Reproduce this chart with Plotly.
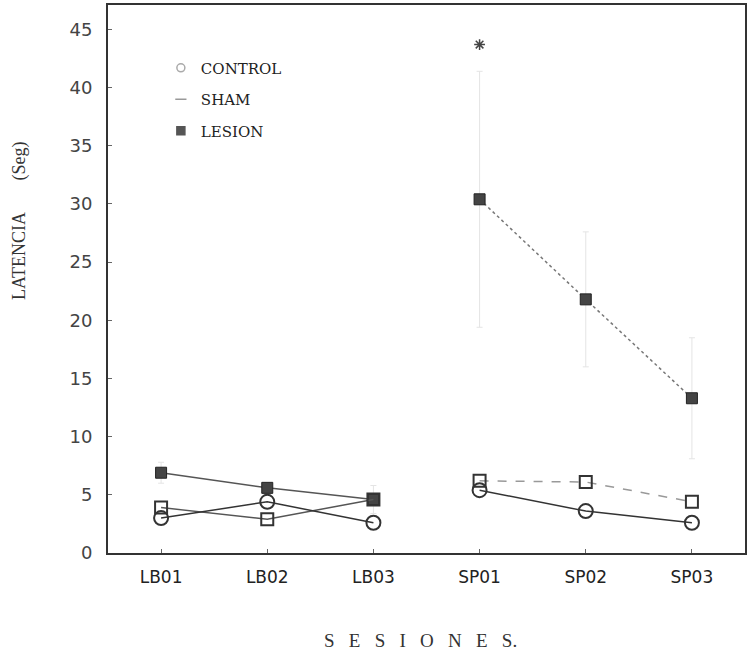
import plotly.graph_objects as go

sessions = ["LB01", "LB02", "LB03", "SP01", "SP02", "SP03"]
control = [3.0, 4.4, 2.6, 5.4, 3.6, 2.6]
sham = [3.9, 2.9, 4.6, 6.2, 6.1, 4.4]
lesion = [6.9, 5.6, 4.6, 30.4, 21.8, 13.3]
lesion_err = [0.9, 0.4, 1.2, 11.0, 5.8, 5.2]
sig_x = ["SP01"]
sig_y = [43.7]
y_ticks = [0, 5, 10, 15, 20, 25, 30, 35, 40, 45]

serif = "Liberation Serif, DejaVu Serif, serif"
serif2 = "DejaVu Serif, Liberation Serif, serif"
sans = "DejaVu Sans, Liberation Sans, sans-serif"

fig = go.Figure()

def seg(vals, a, b):
    return sessions[a:b], vals[a:b]

# Lesion (two segments)
for (a, b), lstyle, col in [((0, 3), "solid", "#555555"), ((3, 6), "dot", "#777777")]:
    xs, ys = seg(lesion, a, b)
    fig.add_trace(go.Scatter(
        x=xs, y=ys, mode="lines+markers", showlegend=False,
        line=dict(color=col, width=1.5, dash=lstyle),
        marker=dict(symbol="square", size=11, color="#444444",
                    line=dict(color="#222222", width=1)),
        error_y=dict(type="data", array=lesion_err[a:b], color="#e4e4e4",
                     thickness=1, width=3),
    ))

# Sham
for (a, b), lstyle, col in [((0, 3), "solid", "#555555"), ((3, 6), "dash", "#999999")]:
    xs, ys = seg(sham, a, b)
    fig.add_trace(go.Scatter(
        x=xs, y=ys, mode="lines+markers", showlegend=False,
        line=dict(color=col, width=1.5, dash=lstyle),
        marker=dict(symbol="square-open", size=12, color="#333333",
                    line=dict(color="#333333", width=2)),
    ))

# Control
for (a, b) in [(0, 3), (3, 6)]:
    xs, ys = seg(control, a, b)
    fig.add_trace(go.Scatter(
        x=xs, y=ys, mode="lines+markers", showlegend=False,
        line=dict(color="#333333", width=1.5),
        marker=dict(symbol="circle-open", size=14, color="#333333",
                    line=dict(color="#333333", width=2)),
    ))

# significance mark
fig.add_trace(go.Scatter(
    x=sig_x, y=sig_y, mode="markers", showlegend=False,
    marker=dict(symbol="asterisk-open", size=9, color="#444444",
                line=dict(color="#444444", width=1.5)),
))

# legend-only entries
for name, sym, col in [("CONTROL", "circle-open", "#aaaaaa"),
                       ("SHAM", "line-ew-open", "#999999"),
                       ("LESION", "square", "#555555")]:
    fig.add_trace(go.Scatter(
        x=[None], y=[None], mode="markers", name=name, legendgroup=name,
        marker=dict(symbol=sym, size=8, color=col, line=dict(color=col, width=1.5)),
    ))

fig.update_layout(
    width=751, height=658,
    margin=dict(l=108, r=6, t=5, b=105, autoexpand=False),
    paper_bgcolor="white", plot_bgcolor="white",
    showlegend=True,
    legend=dict(x=0.083, y=0.915, xanchor="left", yanchor="top",
                bgcolor="rgba(0,0,0,0)", traceorder="grouped",
                tracegroupgap=9,
                font=dict(family=serif2, size=15, color="#222222")),
    xaxis=dict(
        type="category", categoryorder="array", categoryarray=sessions,
        range=[-0.5, 5.5], showgrid=False, zeroline=False, automargin=False,
        showline=True, linecolor="#333333", linewidth=2, mirror=True,
        ticks="inside", ticklen=4, tickcolor="#666666",
        tickfont=dict(family=sans, size=17, color="#222222"),
        ticklabelstandoff=8,
    ),
    yaxis=dict(
        range=[0, 47.1], tickvals=y_ticks, showgrid=False, zeroline=False,
        automargin=False,
        showline=True, linecolor="#333333", linewidth=2, mirror=True,
        ticks="inside", ticklen=4, tickcolor="#666666",
        tickfont=dict(family=sans, size=18, color="#444444"),
        ticklabelstandoff=10,
    ),
    annotations=[
        dict(text="LATENCIA&nbsp;&nbsp;&nbsp;&nbsp;&nbsp;&nbsp;&nbsp;(Seg)", textangle=-90,
             xref="paper", yref="paper", x=-0.138, y=0.606,
             xanchor="center", yanchor="middle",
             showarrow=False, font=dict(family=serif, size=18, color="#333333")),
        dict(text="S&nbsp;&nbsp;&nbsp;E&nbsp;&nbsp;&nbsp;S&nbsp;&nbsp;&nbsp;I&nbsp;&nbsp;&nbsp;O&nbsp;&nbsp;&nbsp;N&nbsp;&nbsp;&nbsp;E&nbsp;&nbsp;&nbsp;S.",
             xref="paper", yref="paper", x=0.49, y=-0.159,
             xanchor="center", yanchor="middle",
             showarrow=False, font=dict(family=serif, size=19, color="#333333")),
    ],
)

fig.write_html("out.html", config={"displayModeBar": False},
               post_script="document.body.style.margin='0';")
